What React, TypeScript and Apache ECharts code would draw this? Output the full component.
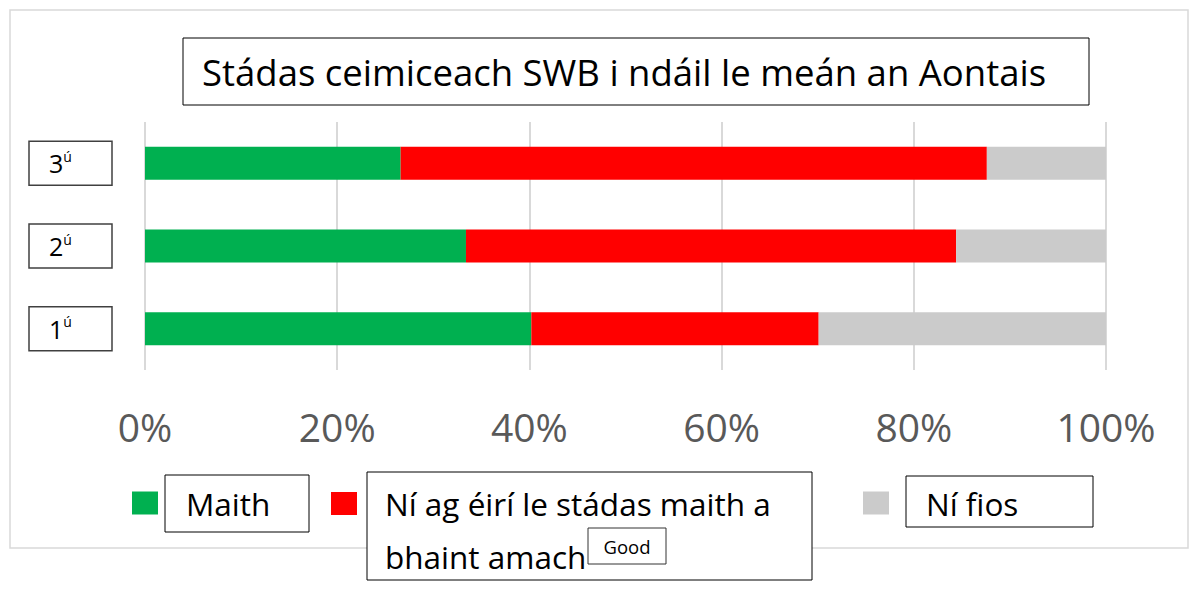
import React, { useEffect, useRef } from "react";
import * as echarts from "echarts";

const categories = ["1ú", "2ú", "3ú"];
const seriesNames = ["Maith", "Ní ag éirí le stádas maith a bhaint amach", "Ní fios"];
const maith = [40.2, 33.4, 26.6];
const niAgEiri = [29.9, 51.0, 61.0];
const niFios = [29.9, 15.6, 12.4];
const xTickStep = 20;
const titleText = "Stádas ceimiceach SWB i ndáil le meán an Aontais";
const stray = "Good";

const FONT = "Open Sans";

export default function App() {
  const ref = useRef<HTMLDivElement>(null);
  useEffect(() => {
    const chart = echarts.init(ref.current!, null, { renderer: "svg" });
    const legendText = (pad: number[]) => ({
      fontSize: 31.5,
      fontFamily: FONT,
      color: "#000",
      padding: pad,
    });
    chart.setOption({
      animation: false,
      backgroundColor: "#fff",
      title: {
        text: titleText,
        left: 202,
        top: 50,
        padding: 0,
        textStyle: { fontSize: 36.5, fontFamily: FONT, fontWeight: "normal", color: "#000", lineHeight: 44 },
      },
      grid: { left: 145, right: 92, top: 122, bottom: 222 },
      xAxis: {
        type: "value",
        min: 0,
        max: 100,
        interval: xTickStep,
        axisLine: { show: false },
        axisTick: { show: false },
        splitLine: { lineStyle: { color: "#d9d9d9", width: 2 } },
        axisLabel: { formatter: "{value}%", fontSize: 39, fontFamily: FONT, color: "#595959", margin: 37 },
      },
      yAxis: {
        type: "category",
        data: categories,
        axisLine: { show: false },
        axisTick: { show: false },
        axisLabel: {
          align: "left",
          margin: 116,
          borderColor: "#404040",
          borderWidth: 1.5,
          padding: [8, 0, 8, 20],
          width: 63,
          formatter: (v: string) => `{n|${v[0]}}{s|${v.slice(1)}}`,
          rich: {
            n: { fontSize: 25, fontFamily: FONT, color: "#000", lineHeight: 28 },
            s: { fontSize: 14, fontFamily: FONT, color: "#000", verticalAlign: "top", lineHeight: 28 },
          },
        },
      },
      legend: [
        {
          data: [seriesNames[0]],
          left: 132,
          top: 487,
          padding: 0,
          icon: "rect",
          itemWidth: 26,
          itemHeight: 23,
          textStyle: legendText([0, 0, 0, 23]),
        },
        {
          data: [seriesNames[1]],
          left: 331,
          top: 424,
          padding: 0,
          icon: "rect",
          itemWidth: 26,
          itemHeight: 23,
          formatter: (n: string) => "\n" + n.replace(" a ", " a\n"),
          textStyle: { ...legendText([0, 0, 0, 23]), lineHeight: 53 },
        },
        {
          data: [seriesNames[2]],
          left: 863,
          top: 487,
          padding: 0,
          icon: "rect",
          itemWidth: 26,
          itemHeight: 23,
          textStyle: legendText([0, 0, 0, 32]),
        },
      ],
      graphic: [
        { type: "rect", shape: { x: 10, y: 10, width: 1178, height: 538 }, style: { fill: "none", stroke: "#d9d9d9", lineWidth: 1.5 } },
        { type: "rect", shape: { x: 183, y: 38, width: 906, height: 67 }, style: { fill: "#fff", stroke: "#000", lineWidth: 1 } },
        { type: "rect", shape: { x: 165, y: 475, width: 144, height: 57 }, style: { fill: "#fff", stroke: "#000", lineWidth: 1 } },
        { type: "rect", shape: { x: 367, y: 472, width: 445, height: 108 }, style: { fill: "#fff", stroke: "#000", lineWidth: 1 } },
        { type: "rect", shape: { x: 906, y: 476, width: 187, height: 51 }, style: { fill: "#fff", stroke: "#000", lineWidth: 1 } },
        { type: "rect", z: 10, shape: { x: 588, y: 528, width: 78, height: 36 }, style: { fill: "#fff", stroke: "#333", lineWidth: 1 } },
        { type: "text", z: 11, x: 627, y: 546, style: { text: stray, fontSize: 18.5, fontFamily: FONT, fill: "#000", align: "center", verticalAlign: "middle" } },
      ],
      series: [
        { name: seriesNames[0], type: "bar", stack: "a", barWidth: 33, data: maith, itemStyle: { color: "#00b050" } },
        { name: seriesNames[1], type: "bar", stack: "a", barWidth: 33, data: niAgEiri, itemStyle: { color: "#ff0000" } },
        { name: seriesNames[2], type: "bar", stack: "a", barWidth: 33, data: niFios, itemStyle: { color: "#cbcbcb" } },
      ],
    });
    return () => chart.dispose();
  }, []);
  return <div ref={ref} style={{ width: 1198, height: 592, position: "absolute", left: 0, top: 0 }} />;
}
